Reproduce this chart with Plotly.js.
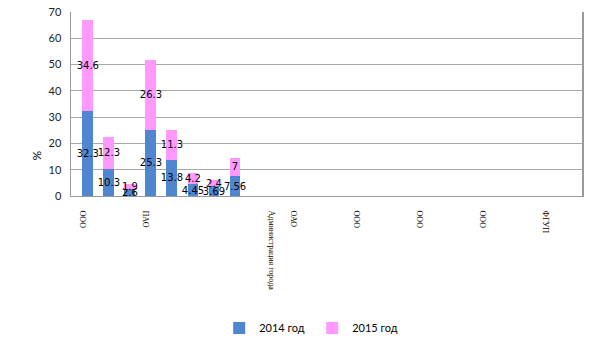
<!DOCTYPE html>
<html>
<head>
<meta charset="utf-8">
<script src="https://cdn.plot.ly/plotly-3.0.1.min.js"></script>
<style>html,body{margin:0;padding:0;background:#fff;}#chart{width:605px;height:340px;}</style>
</head>
<body>
<div id="chart"></div>
<script>
// Bar positions (category slot index) and values
const barSlots = [0, 1, 2, 3, 4, 5, 6, 7];
const values2014 = [32.3, 10.3, 2.6, 25.3, 13.8, 4.45, 3.69, 7.56];
const values2015 = [34.6, 12.3, 1.9, 26.3, 11.3, 4.2, 2.4, 7];
// Category tick labels and their slot indices
const tickSlots = [0, 3, 9, 10, 13, 16, 19, 22];
const tickLabels = ["ООО", "ПАО", "Администрация города", "ОАО", "ООО", "ООО", "ООО", "ФГУП"];
const seriesNames = ["2014 год", "2015 год"];
const yTicks = [0, 10, 20, 30, 40, 50, 60, 70];

const labelFont = {family: "DejaVu Sans", size: 10, color: "#000"};
function barTrace(vals, name, color) {
  return {
    type: "bar", x: barSlots, y: vals, name: name,
    marker: {color: color, line: {color: color, width: 0}},
    text: vals.map(String), textposition: "inside", insidetextanchor: "middle",
    textangle: 0, constraintext: "none", textfont: labelFont, insidetextfont: labelFont,
    cliponaxis: false, hoverinfo: "skip"
  };
}
const traces = [
  barTrace(values2014, seriesNames[0], "#4F86CF"),
  barTrace(values2015, seriesNames[1], "#FF99FF")
];
const layout = {
  width: 605, height: 340,
  margin: {l: 71, r: 23, t: 12, b: 144},
  paper_bgcolor: "#fff", plot_bgcolor: "#fff",
  barmode: "stack", bargap: 0.48,
  showlegend: true,
  legend: {orientation: "h", traceorder: "normal", x: 0.29, xanchor: "left", yref: "container", y: 0.035, yanchor: "middle",
           font: {family: "Lato", size: 11, color: "#000"}, entrywidth: 48, entrywidthmode: "pixels"},
  xaxis: {
    range: [-0.8, 23.5], tickmode: "array", tickvals: tickSlots, ticktext: tickLabels,
    tickangle: 90, tickfont: {family: "Liberation Serif", size: 8, color: "#000"},
    ticklabelshift: -5, ticklabelstandoff: 12,
    showgrid: false, zeroline: false, showline: true, linecolor: "#9a9a9a", linewidth: 1, ticks: ""
  },
  yaxis: {
    range: [0, 70], tickmode: "array", tickvals: yTicks,
    tickfont: {family: "Lato", size: 11, color: "#222"},
    showgrid: true, gridcolor: "#a8a8a8", gridwidth: 1, zeroline: false,
    showline: true, mirror: true, linecolor: "#9a9a9a", linewidth: 1.5, ticks: "", ticklabelstandoff: 6
  },
  annotations: [{
    text: "%", xref: "paper", yref: "paper", x: -0.086, y: 0.18, showarrow: false,
    textangle: -90, font: {family: "Lato", size: 12, color: "#000"}
  }]
};
Plotly.newPlot("chart", traces, layout, {displayModeBar: false, staticPlot: true});
</script>
</body>
</html>
